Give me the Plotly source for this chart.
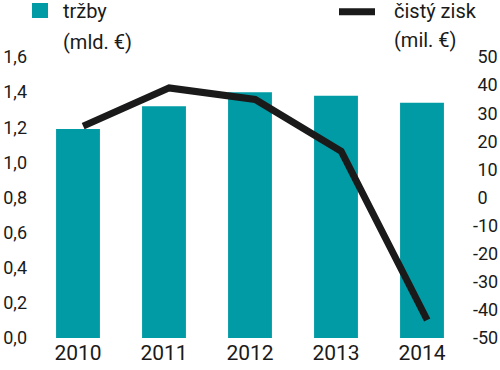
import plotly.graph_objects as go

years = ["2010", "2011", "2012", "2013", "2014"]
trzby = [1.19, 1.32, 1.40, 1.38, 1.34]          # mld. €
cisty_zisk = [25.4, 39.0, 34.9, 16.5, -43.6]    # mil. €

left_tick_vals = [0, 0.2, 0.4, 0.6, 0.8, 1.0, 1.2, 1.4, 1.6]
right_tick_vals = [50, 40, 30, 20, 10, 0, -10, -20, -30, -40, -50]
right_tick_text = [("\u00a0" + str(v)) if v >= 0 else str(v) for v in right_tick_vals]

FONT = "Roboto, Liberation Sans, sans-serif"
TEAL = "#009ba4"
BLACK = "#1a1a1a"

W, H = 500, 370
ML, MR, MT, MB = 35, 35, 57, 32
PW, PH = W - ML - MR, H - MT - MB


def px(x):
    return (x - ML) / PW


def py(y):
    return (H - MB - y) / PH


fig = go.Figure()
fig.add_trace(go.Bar(x=years, y=trzby, name="tržby (mld. €)",
                     marker=dict(color=TEAL, line=dict(width=0)),
                     xaxis="x", yaxis="y", showlegend=False))
fig.add_trace(go.Scatter(x=years, y=cisty_zisk, name="čistý zisk (mil. €)",
                         mode="lines", line=dict(color=BLACK, width=7),
                         xaxis="x2", yaxis="y2", showlegend=False))

shift = 0.06
fig.update_layout(
    width=W, height=H,
    margin=dict(l=ML, r=MR, t=MT, b=MB, pad=0, autoexpand=False),
    paper_bgcolor="white", plot_bgcolor="white",
    separators=",.",
    font=dict(family=FONT, color="#1a1a1a", size=18),
    bargap=0.49,
    xaxis=dict(type="category", range=[-0.5, 4.5], showgrid=False, zeroline=False,
               showline=False, ticks="", tickfont=dict(size=21), automargin=False),
    xaxis2=dict(type="category", overlaying="x", range=[-0.5 - shift, 4.5 - shift],
                visible=False),
    yaxis=dict(range=[0, 1.6], tickvals=left_tick_vals, tickformat=".1f",
               showgrid=False, zeroline=False, showline=False, ticks="",
               ticklabelstandoff=7, tickfont=dict(size=18), automargin=False),
    yaxis2=dict(range=[-50, 50], overlaying="y", side="right", anchor="x",
                tickvals=right_tick_vals, ticktext=right_tick_text,
                showgrid=False, zeroline=False, showline=False, ticks="",
                ticklabelstandoff=7, tickfont=dict(size=18), automargin=False),
    shapes=[
        dict(type="rect", xref="paper", yref="paper",
             x0=px(32), x1=px(48), y0=py(18), y1=py(3),
             fillcolor=TEAL, line=dict(width=0)),
        dict(type="line", xref="paper", yref="paper",
             x0=px(339), x1=px(375), y0=py(11.7), y1=py(11.7),
             line=dict(color=BLACK, width=7)),
    ],
    annotations=[
        dict(text="tržby", xref="paper", yref="paper", x=px(61), y=py(10.5),
             xanchor="left", yanchor="middle", showarrow=False, font=dict(size=20)),
        dict(text="(mld. €)", xref="paper", yref="paper", x=px(61), y=py(41.5),
             xanchor="left", yanchor="middle", showarrow=False, font=dict(size=20)),
        dict(text="čistý zisk", xref="paper", yref="paper", x=px(392), y=py(11.5),
             xanchor="left", yanchor="middle", showarrow=False, font=dict(size=20)),
        dict(text="(mil. €)", xref="paper", yref="paper", x=px(392), y=py(40),
             xanchor="left", yanchor="middle", showarrow=False, font=dict(size=20)),
    ],
)

fig.write_html("out.html", config={"displayModeBar": False},
               post_script="document.body.style.margin='0px';")
